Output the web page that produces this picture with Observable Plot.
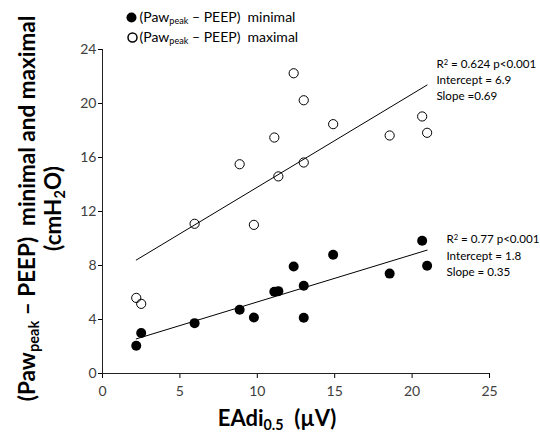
<!DOCTYPE html>
<html><head><meta charset="utf-8">
<script src="https://cdn.jsdelivr.net/npm/d3@7"></script>
<script src="https://cdn.jsdelivr.net/npm/@observablehq/plot@0.6"></script>
<style>body{margin:0;background:#fff}</style>
</head><body><div id="chart"></div>
<script>
// EAdi0.5 (µV) per patient
const eadi = [2.18, 2.5, 5.95, 8.86, 9.78, 11.1, 11.36, 12.35, 13.0, 13.0, 14.9, 18.55, 20.65, 20.97];
// (Pawpeak - PEEP) minimal, cmH2O
const minimal = [2.05, 3.0, 3.73, 4.72, 4.15, 6.05, 6.1, 7.93, 6.5, 4.13, 8.8, 7.4, 9.83, 7.98];
// (Pawpeak - PEEP) maximal, cmH2O
const maximal = [5.6, 5.16, 11.09, 15.5, 11.01, 17.48, 14.6, 22.24, 20.24, 15.63, 18.47, 17.63, 19.04, 17.83];
// regression fits
const fitMax = {intercept: 6.9, slope: 0.69, text: "R^{2} = 0.624 p<0.001\nIntercept = 6.9\nSlope =0.69"};
const fitMin = {intercept: 1.8, slope: 0.35, text: "R^{2} = 0.77 p<0.001\nIntercept = 1.8\nSlope = 0.35"};
const xTicks = [0, 5, 10, 15, 20, 25];
const yTicks = [0, 4, 8, 12, 16, 20, 24];
const legendLabels = ["(Paw_{peak} – PEEP)\u00a0 minimal", "(Paw_{peak} – PEEP)\u00a0 maximal"];
const xLabel = "EAdi_{0.5}\u00a0 (µV)";
const yLabel = "(Paw_{peak} – PEEP)\u00a0 minimal and maximal\n(cmH_{2}O)";

const minPts = eadi.map((x, i) => ({x, y: minimal[i]}));
const maxPts = eadi.map((x, i) => ({x, y: maximal[i]}));
const xExt = d3.extent(eadi);
const lineOf = f => xExt.map(x => ({x, y: f.intercept + f.slope * x}));

const FONT = "Lato, 'Open Sans', sans-serif";
const plot = Plot.plot({
  width: 540, height: 434,
  marginLeft: 102, marginRight: 51, marginTop: 49, marginBottom: 61,
  style: {fontFamily: FONT, fontSize: "14px", color: "#000", background: "#fff", overflow: "visible"},
  x: {domain: [0, 25]},
  y: {domain: [0, 24]},
  marks: [
    Plot.axisX({ticks: xTicks, tickSize: 5, tickPadding: 8, fontSize: 14, fill: "#404040", label: null}),
    Plot.axisY({ticks: yTicks, tickSize: 4, tickPadding: 2, fontSize: 14, fill: "#404040", label: null}),
    Plot.ruleY([0], {stroke: "#222"}),
    Plot.ruleX([0], {stroke: "#222"}),
    Plot.line(lineOf(fitMax), {x: "x", y: "y", stroke: "black", strokeWidth: 1}),
    Plot.line(lineOf(fitMin), {x: "x", y: "y", stroke: "black", strokeWidth: 1}),
    Plot.dot(maxPts, {x: "x", y: "y", r: 4.6, fill: "none", stroke: "black", strokeWidth: 1}),
    Plot.dot(minPts, {x: "x", y: "y", r: 5, fill: "black"}),
    // annotations
    Plot.text([fitMax.text], {x: 21.57, y: 23.5, text: d => d, textAnchor: "start", lineAnchor: "top", fontSize: 11.6, lineHeight: 1.4}),
    Plot.text([fitMin.text], {x: 22.22, y: 10.5, text: d => d, textAnchor: "start", lineAnchor: "top", fontSize: 11.6, lineHeight: 1.4}),
    // legend
    Plot.dot([0], {frameAnchor: "top-left", dx: 29, dy: -32, r: 5, fill: "black"}),
    Plot.dot([0], {frameAnchor: "top-left", dx: 30, dy: -12, r: 4.5, fill: "none", stroke: "black"}),
    Plot.text([legendLabels[0]], {frameAnchor: "top-left", dx: 37, dy: -32, text: d => d, textAnchor: "start", lineAnchor: "middle", fontSize: 14}),
    Plot.text([legendLabels[1]], {frameAnchor: "top-left", dx: 37, dy: -12, text: d => d, textAnchor: "start", lineAnchor: "middle", fontSize: 14}),
    // axis titles
    Plot.text([xLabel], {frameAnchor: "bottom", dx: -19, dy: 45, text: d => d, textAnchor: "middle", lineAnchor: "middle", fontSize: 22, fontWeight: "bold"}),
    Plot.text([yLabel], {frameAnchor: "left", dx: -63, dy: -3, rotate: -90, text: d => d, textAnchor: "middle", lineAnchor: "middle", fontSize: 22.5, fontWeight: "bold", lineHeight: 1.16})
  ]
});

// turn _{..} and ^{..} into sub/superscript tspans
function richify(root) {
  const els = Array.from(root.querySelectorAll("text, tspan")).filter(el => el.children.length === 0 && /[_^]\{/.test(el.textContent));
  for (const el of els) {
    const t = el.textContent;
    el.textContent = "";
    const re = /([_^])\{([^}]*)\}/g;
    let last = 0, m;
    const add = (s, kind) => {
      if (!s) return;
      const ts = document.createElementNS("http://www.w3.org/2000/svg", "tspan");
      ts.textContent = s;
      if (kind) {
        ts.setAttribute("font-size", "65%");
        ts.setAttribute("baseline-shift", kind === "_" ? "-25%" : "40%");
      }
      el.appendChild(ts);
    };
    while ((m = re.exec(t))) {
      add(t.slice(last, m.index));
      add(m[2], m[1]);
      last = re.lastIndex;
    }
    add(t.slice(last));
  }
}
richify(plot);
document.getElementById("chart").appendChild(plot);
</script>
</body></html>
